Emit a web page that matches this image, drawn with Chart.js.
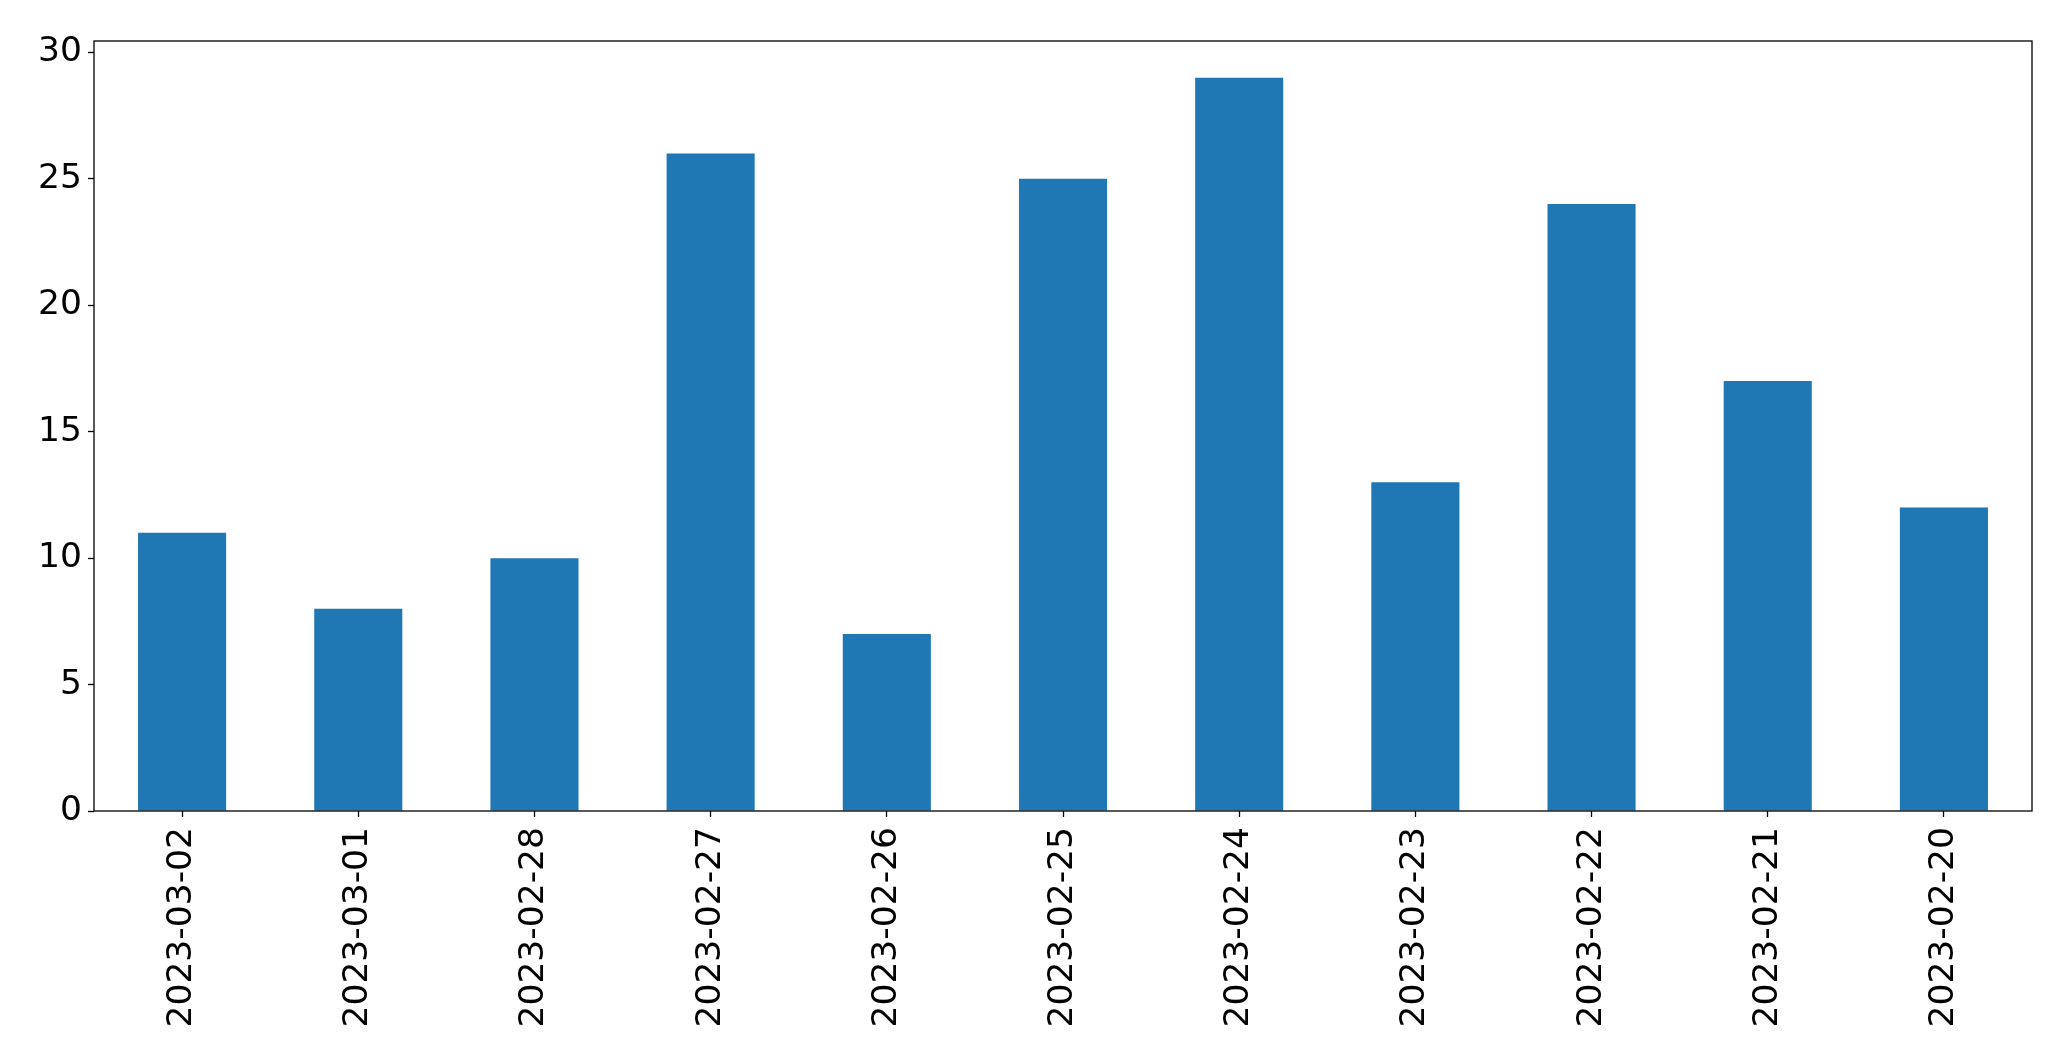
<!DOCTYPE html>
<html>
<head>
<meta charset="utf-8">
<script src="https://cdn.jsdelivr.net/npm/chart.js@4"></script>
<style>
  html, body { margin: 0; padding: 0; background: #fff; }
  canvas { display: block; }
</style>
</head>
<body>
<canvas id="myChart" width="2071" height="1063"></canvas>
<script>
const dates = [
    '2023-03-02', '2023-03-01', '2023-02-28', '2023-02-27', '2023-02-26', '2023-02-25',
    '2023-02-24', '2023-02-23', '2023-02-22', '2023-02-21', '2023-02-20'
]
const counts = [11, 8, 10, 26, 7, 25, 29, 13, 24, 17, 12]
const yTicks = [0, 5, 10, 15, 20, 25, 30]

// box round the plot area, like matplotlib spines
const frame = {
    id: 'frame',
    afterDraw(chart) {
        const { ctx, chartArea: a } = chart
        ctx.save()
        ctx.strokeStyle = '#000'
        ctx.lineWidth = 1.3
        ctx.strokeRect(a.left, a.top, a.right - a.left, a.bottom - a.top)
        ctx.restore()
    }
}

const font = { family: 'DejaVu Sans', size: 34.5 }

const config = {
    type: 'bar',
    data: {
        labels: dates,
        datasets: [{
            data: counts,
            backgroundColor: '#1f77b4',
            categoryPercentage: 1,
            barPercentage: 0.5
        }]
    },
    options: {
        responsive: false,
        devicePixelRatio: 1,
        animation: false,
        layout: { padding: { top: 41, right: 39, left: 0, bottom: 0 } },
        plugins: { legend: false, tooltip: false },
        scales: {
            x: {
                offset: true,
                grid: { offset: false, drawOnChartArea: false, color: '#000', tickLength: 6, tickWidth: 1.3 },
                border: { display: false },
                ticks: { color: '#000', font, minRotation: 90, maxRotation: 90, padding: 10, autoSkip: false },
                afterFit(scale) { scale.height = 252 }
            },
            y: {
                min: 0,
                max: 30.45,
                grid: { drawOnChartArea: false, color: '#000', tickLength: 6, tickWidth: 1.3 },
                border: { display: false },
                ticks: { color: '#000', font, stepSize: 5, padding: 6 },
                afterBuildTicks(scale) {
                    scale.ticks = yTicks.map(v => ({ value: v }))
                },
                afterFit(scale) { scale.width = 94 }
            }
        }
    },
    plugins: [frame]
}

const myChart = new Chart(document.getElementById('myChart'), config)
</script>
</body>
</html>
